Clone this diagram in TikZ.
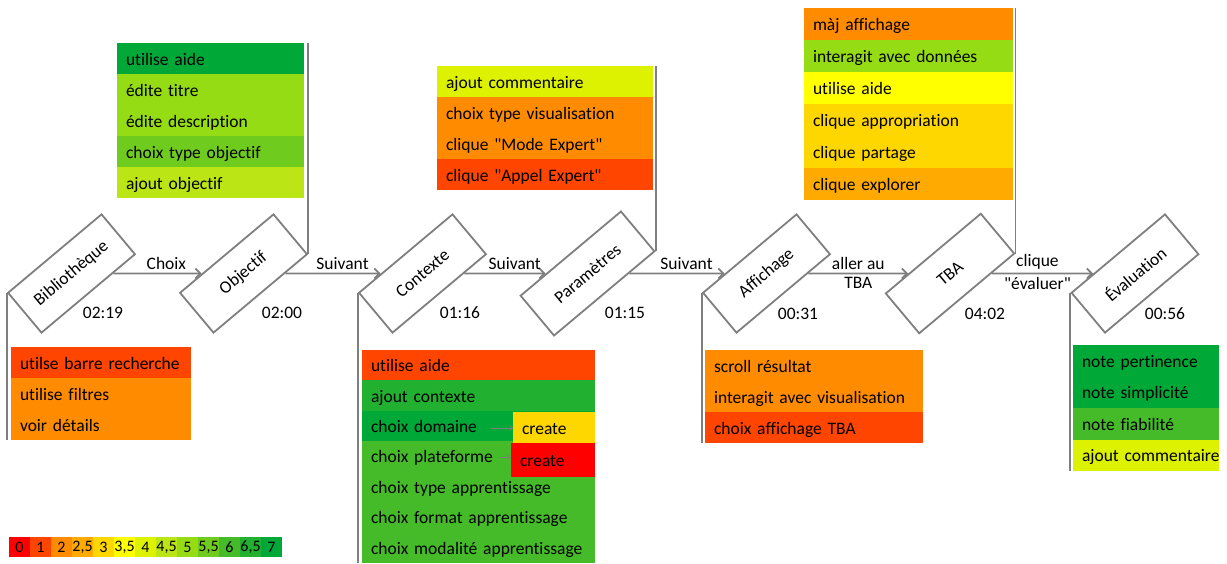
\documentclass[tikz,border=0pt]{standalone}
\usepackage{fontspec}
\setmainfont{Carlito}[Ligatures={TeXOff,CommonOff}]
\usetikzlibrary{arrows.meta}
\definecolor{linegray}{HTML}{7F7F7F}
\definecolor{lvA}{HTML}{FF0000}
\definecolor{lvB}{HTML}{FF4500}
\definecolor{lvC}{HTML}{FF8C00}
\definecolor{lvD}{HTML}{FFAA00}
\definecolor{lvE}{HTML}{FFD700}
\definecolor{lvF}{HTML}{FFFF00}
\definecolor{lvG}{HTML}{DDF200}
\definecolor{lvH}{HTML}{BBE515}
\definecolor{lvI}{HTML}{96DC15}
\definecolor{lvJ}{HTML}{6FCC1F}
\definecolor{lvK}{HTML}{45BB2A}
\definecolor{lvL}{HTML}{22B030}
\definecolor{lvM}{HTML}{00A838}
\tikzset{
  conn/.style={draw=linegray, line width=1.8pt, -{Straight Barb[length=5pt,width=10pt]}},
  vline/.style={draw=linegray, line width=1.8pt},
  smallarr/.style={draw=linegray, line width=0.7pt, -{Straight Barb[length=3pt,width=5pt]}},
  stage/.style={draw=linegray, line width=1.8pt, fill=white, rotate=40,
    minimum width=122pt, minimum height=52pt, inner sep=0pt,
    font=\fontsize{17.5}{20}\selectfont},
  elbl/.style={font=\fontsize{17.5}{20}\selectfont, inner sep=3pt},
  tlbl/.style={font=\fontsize{17.5}{20}\selectfont, inner sep=0pt},
  row/.style={anchor=north west, minimum height=31pt, inner xsep=9pt, inner ysep=0pt,
    outer sep=0pt, align=left, text height=14pt, text depth=1pt,
    font=\fontsize{17.5}{20}\selectfont},
  legcell/.style={anchor=north west, minimum width=21pt, minimum height=20pt,
    inner sep=0pt, outer sep=0pt, font=\fontsize{16}{16}\selectfont}
}
\begin{document}
\begin{tikzpicture}[x=1pt,y=-1pt]
\useasboundingbox (0,0) rectangle (1227,563);

% stages
\node[stage] (bib) at (71.5,273.5) {Bibliothèque};
\node[stage] (obj) at (243.5,273.5) {Objectif};
\node[stage] (ctx) at (422.5,273.5) {Contexte};
\node[stage, minimum width=131pt] (par) at (587.5,273.5) {Paramètres};
\node[stage] (aff) at (766.5,273.5) {Affichage};
\node[stage, minimum width=124pt] (tba) at (950,273.5) {TBA};
\node[stage] (eva) at (1135,273.5) {Évaluation};

% times
\node[tlbl] (t1) at (103,313) {02:19};
\node[tlbl] (t2) at (282,313) {02:00};
\node[tlbl] (t3) at (460,313) {01:16};
\node[tlbl] (t4) at (625,313) {01:15};
\node[tlbl] (t5) at (798,314) {00:31};
\node[tlbl] (t6) at (985,314) {04:02};
\node[tlbl] (t7) at (1165,314) {00:56};

% connectors
\draw[conn] (bib) -- node[elbl, above, pos=0.6]{Choix} (obj);
\draw[conn] (obj) -- node[elbl, above, pos=0.6]{Suivant} (ctx);
\draw[conn] (ctx) -- node[elbl, above, pos=0.62]{Suivant} (par);
\draw[conn] (par) -- node[elbl, above, pos=0.6]{Suivant} (aff);
\draw[conn] (aff) -- node[elbl, above]{aller au} node[elbl, below]{TBA} (tba);
\draw[conn] (tba) -- node[elbl, above, pos=0.45]{clique} node[elbl, below, pos=0.45]{"évaluer"} (eva);

% Bibliotheque actions
\node[row, text width=162pt, fill=lvB] (b1) at (11,347) {utilse barre recherche};
\node[row, text width=162pt, fill=lvC] (b2) at (b1.south west) {utilise filtres};
\node[row, text width=162pt, fill=lvC] (b3) at (b2.south west) {voir détails};
\draw[vline] (bib.north west) -- (bib.north west |- b3.south);

% Objectif actions
\node[row, text width=169pt, fill=lvM] (o1) at (117,43) {utilise aide};
\node[row, text width=169pt, fill=lvI] (o2) at (o1.south west) {édite titre};
\node[row, text width=169pt, fill=lvI] (o3) at (o2.south west) {édite description};
\node[row, text width=169pt, fill=lvJ] (o4) at (o3.south west) {choix type objectif};
\node[row, text width=169pt, fill=lvH] (o5) at (o4.south west) {ajout objectif};
\draw[vline] (obj.south east) -- (obj.south east |- o1.north);

% Contexte actions
\tikzset{crow/.style={row, text width=215pt, minimum height=30.4pt}}
\node[crow, fill=lvB] (c1) at (362,350) {utilise aide};
\node[crow, fill=lvL] (c2) at (c1.south west) {ajout contexte};
\node[crow, fill=lvM] (c3) at (c2.south west) {choix domaine};
\node[crow, fill=lvK] (c4) at (c3.south west) {choix plateforme};
\node[crow, fill=lvK] (c5) at (c4.south west) {choix type apprentissage};
\node[crow, fill=lvK] (c6) at (c5.south west) {choix format apprentissage};
\node[crow, fill=lvK] (c7) at (c6.south west) {choix modalité apprentissage};
\node[row, text width=64pt, fill=lvE, minimum height=31pt] (cre1) at (513,412) {create};
\node[row, text width=66pt, fill=lvA, minimum height=34pt] (cre2) at (511,443) {create};
\coordinate (a1) at (491,428);
\coordinate (a2) at (499,457);
\draw[smallarr] (a1) -- (a1 -| cre1.west);
\draw[smallarr] (a2) -- (a2 -| cre2.west);
\draw[vline] (ctx.north west) -- (ctx.north west |- c7.south);

% Parametres actions
\node[row, text width=198pt, fill=lvG] (p1) at (437,66) {ajout commentaire};
\node[row, text width=198pt, fill=lvC] (p2) at (p1.south west) {choix type visualisation};
\node[row, text width=198pt, fill=lvC] (p3) at (p2.south west) {clique "Mode Expert"};
\node[row, text width=198pt, fill=lvB] (p4) at (p3.south west) {clique "Appel Expert"};
\draw[vline] (par.south east) -- (par.south east |- p1.north);

% Affichage actions
\node[row, text width=200pt, fill=lvC] (f1) at (705,350) {scroll résultat};
\node[row, text width=200pt, fill=lvC] (f2) at (f1.south west) {interagit avec visualisation};
\node[row, text width=200pt, fill=lvB] (f3) at (f2.south west) {choix affichage TBA};
\draw[vline] (aff.north west) -- (aff.north west |- f3.south);

% TBA actions
\tikzset{trow/.style={row, text width=191pt, minimum height=32pt}}
\node[trow, fill=lvC] (g1) at (804,8) {màj affichage};
\node[trow, fill=lvI] (g2) at (g1.south west) {interagit avec données};
\node[trow, fill=lvF] (g3) at (g2.south west) {utilise aide};
\node[trow, fill=lvE] (g4) at (g3.south west) {clique appropriation};
\node[trow, fill=lvE] (g5) at (g4.south west) {clique partage};
\node[trow, fill=lvD] (g6) at (g5.south west) {clique explorer};
\draw[vline] (tba.south east) -- (tba.south east |- g1.north);

% Evaluation actions
\tikzset{erow/.style={row, text width=128pt, minimum height=31.5pt}}
\node[erow, fill=lvM] (e1) at (1073,345) {note pertinence};
\node[erow, fill=lvM] (e2) at (e1.south west) {note simplicité};
\node[erow, fill=lvK] (e3) at (e2.south west) {note fiabilité};
\node[erow, fill=lvG] (e4) at (e3.south west) {\mbox{ajout commentaire}};
\draw[vline] (eva.north west) -- (eva.north west |- e4.south);

% legend
\foreach \c/\t [count=\i] in {lvA/0,lvB/1,lvC/2,lvD/{2,5},lvE/3,lvF/{3,5},lvG/4,lvH/{4,5},lvI/5,lvJ/{5,5},lvK/6,lvL/{6,5},lvM/7}
  \node[legcell, fill=\c] (leg\i) at ({9+21*(\i-1)},537) {\t};
\end{tikzpicture}
\end{document}
